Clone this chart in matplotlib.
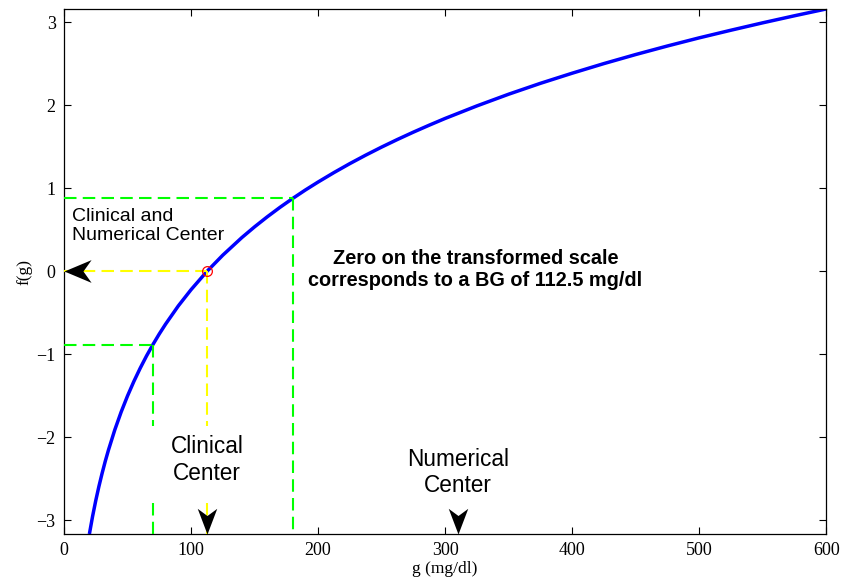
import matplotlib
matplotlib.use("Agg")
import matplotlib.pyplot as plt
from matplotlib.path import Path

# BG values (mg/dl) and transformed values f(g)
g_vals = [20, 22.5, 25, 27.5, 30, 32.5, 35, 40, 45, 50, 55, 60, 65, 70, 75,
          80, 90, 100, 112.5, 125, 140, 150, 160, 170, 180, 190, 200, 212.5,
          225, 237.5, 250, 262.5, 275, 287.5, 300, 325, 350, 375, 400, 425,
          450, 475, 500, 525, 550, 575, 600]
f_vals = [-3.163, -2.951, -2.761, -2.589, -2.432, -2.286, -2.152, -1.908,
          -1.693, -1.500, -1.325, -1.165, -1.017, -0.881, -0.753, -0.634,
          -0.415, -0.220, 0.000, 0.196, 0.408, 0.537, 0.658, 0.772, 0.879,
          0.981, 1.077, 1.191, 1.299, 1.401, 1.498, 1.590, 1.678, 1.762,
          1.843, 1.994, 2.135, 2.266, 2.388, 2.504, 2.613, 2.716, 2.814,
          2.906, 2.995, 3.080, 3.162]

clinical_center = 112.5
numerical_center = 310
target_low, target_high = 70, 180
f_low, f_high = -0.88, 0.88

# where the vertical guides are broken for the "Clinical Center" label
gap_top, gap_bottom = -1.86, -2.79

serif = ["Liberation Serif", "DejaVu Serif"]
sans = ["Liberation Sans", "DejaVu Sans"]

fig = plt.figure(figsize=(8.43, 5.83), dpi=100)
ax = fig.add_axes([0.0759, 0.084, 0.9041, 0.9006])

ymin, ymax = f_vals[0], f_vals[-1]
ax.set_xlim(0, 600)
ax.set_ylim(ymin, ymax)

ax.plot(g_vals, f_vals, color="#0000ff", lw=2.5, zorder=2,
        solid_joinstyle="round", solid_capstyle="butt")

dash = dict(lw=1.5, dashes=(6, 3), zorder=3)
green = "#00ff00"
yellow = "#ffff00"
ax.plot([0, target_high], [f_high, f_high], color=green, **dash)
ax.plot([target_high, target_high], [f_high, ymin], color=green, **dash)
ax.plot([0, target_low], [f_low, f_low], color=green, **dash)
ax.plot([target_low, target_low], [f_low, gap_top], color=green, **dash)
ax.plot([target_low, target_low], [gap_bottom, ymin], color=green, **dash)
ax.plot([0, clinical_center], [0, 0], color=yellow, **dash)
ax.plot([clinical_center, clinical_center], [0, gap_top], color=yellow, **dash)
ax.plot([clinical_center, clinical_center], [gap_bottom, ymin], color=yellow, **dash)

ax.plot(clinical_center, 0, "o", mfc="none", mec="red", ms=7, mew=0.9, zorder=4)

# arrowhead markers with a notched back, tip at the origin
left_head = Path([(0, 0), (1, 0.42), (0.7, 0), (1, -0.42), (0, 0)],
                 [Path.MOVETO, Path.LINETO, Path.LINETO, Path.LINETO, Path.CLOSEPOLY])
down_head = Path([(0, 0), (0.38, 1), (0, 0.72), (-0.38, 1), (0, 0)],
                 [Path.MOVETO, Path.LINETO, Path.LINETO, Path.LINETO, Path.CLOSEPOLY])
ax.plot(0, 0, marker=left_head, ms=39, color="black", mew=0, zorder=5, clip_on=False)
ax.plot(clinical_center, ymin, marker=down_head, ms=37, color="black", mew=0,
        zorder=5, clip_on=False)
ax.plot(numerical_center, ymin, marker=down_head, ms=37, color="black", mew=0,
        zorder=5, clip_on=False)

ax.text(6, 0.55, "Clinical and\nNumerical Center", fontsize=14, family=sans,
        ha="left", va="center")
ax.text(clinical_center, -2.27, "Clinical\nCenter", fontsize=16.3, family=sans,
        ha="center", va="center", multialignment="center")
ax.text(numerical_center, -2.42, "Numerical\nCenter", fontsize=16.3, family=sans,
        ha="center", va="center", multialignment="center")
ax.text(324, 0.02, "Zero on the transformed scale\ncorresponds to a BG of 112.5 mg/dl",
        fontsize=14.3, family=sans, fontweight="bold", ha="center", va="center",
        multialignment="center")

ax.set_xticks([0, 100, 200, 300, 400, 500, 600])
ax.set_yticks([-3, -2, -1, 0, 1, 2, 3])
ax.tick_params(direction="in", length=5, width=0.8, top=True, right=True,
               labelsize=13, pad=6)
for lab in ax.get_xticklabels() + ax.get_yticklabels():
    lab.set_family(serif)
for sp in ax.spines.values():
    sp.set_linewidth(0.9)

ax.set_xlabel("g (mg/dl)", fontsize=12.5, family=serif, labelpad=1)
ax.set_ylabel("f(g)", fontsize=12.5, family=serif, labelpad=3)

fig.savefig("out.png", dpi=100)
